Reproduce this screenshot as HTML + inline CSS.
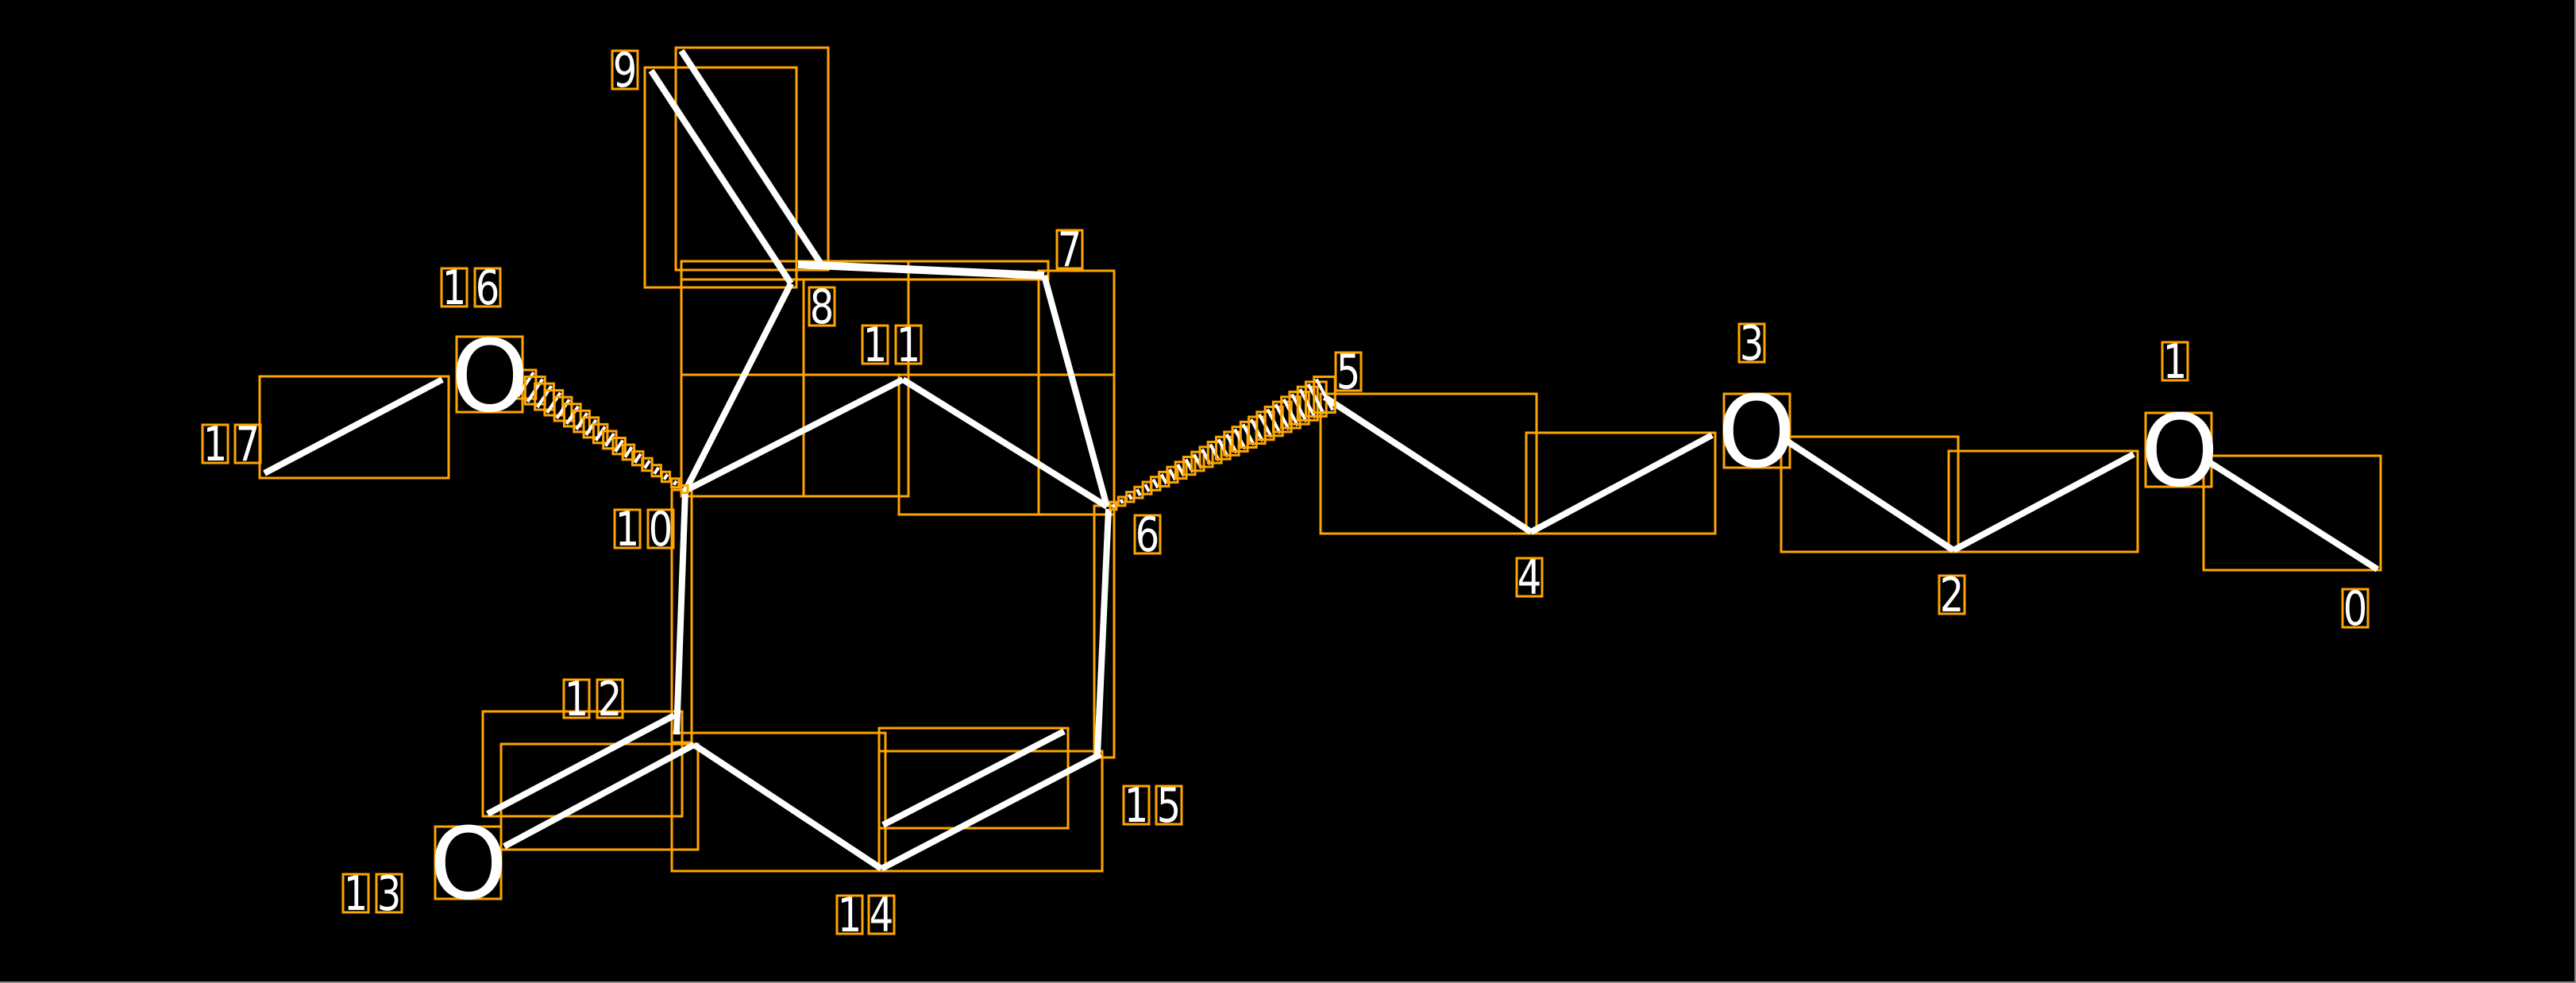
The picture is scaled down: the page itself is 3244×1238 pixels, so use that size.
<!DOCTYPE html>
<html><head><meta charset="utf-8"><style>
html,body{margin:0;padding:0;background:#000;}
svg{display:block;}
text{font-family:"DejaVu Sans","Liberation Sans",sans-serif;fill:#fff;}
</style></head><body>
<svg id="s" width="3244" height="1238" viewBox="0 0 3244 1238" xmlns="http://www.w3.org/2000/svg">
<rect x="0" y="0" width="3244" height="1238" fill="#000"/>
<line x1="0" y1="1237" x2="3244" y2="1237" stroke="#888" stroke-width="2"/>
<line x1="3243" y1="0" x2="3243" y2="1238" stroke="#888" stroke-width="2"/>

<g fill="none" stroke="#FFA500" stroke-width="3">
<rect x="327" y="474" width="238" height="128"/>
<rect x="575" y="424" width="83" height="95"/>
<rect x="812" y="85" width="191" height="277"/>
<rect x="851" y="60" width="192" height="280"/>
<rect x="858" y="329" width="462" height="23"/>
<rect x="858" y="329" width="286" height="296"/>
<line x1="1012" y1="352" x2="1012" y2="625"/>
<line x1="858" y1="472" x2="1403" y2="472"/>
<rect x="1000" y="352" width="1" height="0"/>
<rect x="1308" y="341" width="95" height="307"/>
<rect x="1132" y="472" width="271" height="176"/>
<rect x="846" y="617" width="25" height="318"/>
<rect x="1378" y="637" width="25" height="317"/>
<rect x="608" y="896" width="251" height="132"/>
<rect x="631" y="937" width="248" height="133"/>
<rect x="846" y="923" width="269" height="174"/>
<rect x="1107" y="917" width="238" height="126"/>
<rect x="1107" y="946" width="281" height="151"/>
<rect x="548" y="1041" width="83" height="91"/>
<rect x="1663" y="496" width="272" height="176"/>
<rect x="1922" y="545" width="238" height="127"/>
<rect x="2171" y="496" width="83" height="93"/>
<rect x="2243" y="550" width="223" height="145"/>
<rect x="2454" y="568" width="238" height="127"/>
<rect x="2702" y="520" width="83" height="93"/>
<rect x="2775" y="574" width="223" height="144"/>
</g>

<g stroke="#fff" stroke-width="8" stroke-linecap="butt" fill="none">
<line x1="333" y1="596" x2="557" y2="478"/>
<line x1="820" y1="89" x2="996" y2="357"/>
<line x1="858" y1="64" x2="1033" y2="331"/>
<line x1="1005" y1="333" x2="1315" y2="347" stroke-width="10"/>
<line x1="996" y1="357" x2="863" y2="618"/>
<line x1="863" y1="618" x2="1137" y2="478"/>
<line x1="1137" y1="478" x2="1394" y2="638"/>
<line x1="1315" y1="347" x2="1394" y2="638"/>
<line x1="863" y1="618" x2="852" y2="925"/>
<line x1="614" y1="1025" x2="849" y2="901"/>
<line x1="635" y1="1066" x2="874" y2="938"/>
<line x1="874" y1="938" x2="1110" y2="1094"/>
<line x1="1110" y1="1094" x2="1386" y2="950"/>
<line x1="1112" y1="1039" x2="1340" y2="921"/>
<line x1="1396" y1="641" x2="1382" y2="950"/>
<line x1="1668" y1="500" x2="1928" y2="670"/>
<line x1="1928" y1="670" x2="2156" y2="548"/>
<line x1="2245" y1="552" x2="2460" y2="693"/>
<line x1="2460" y1="693" x2="2687" y2="572"/>
<line x1="2779" y1="580" x2="2994" y2="717"/>
</g>

<g id="hash"></g>

<g font-size="125">
<text x="617" y="517" text-anchor="middle">O</text>
<text x="590" y="1131" text-anchor="middle">O</text>
<text x="2212" y="587" text-anchor="middle">O</text>
<text x="2745" y="611" text-anchor="middle">O</text>
</g>

<g id="labels" font-size="60"></g>
</svg>
<script>
var NS="http://www.w3.org/2000/svg";
function el(p,n,a){var e=document.createElementNS(NS,n);for(var k in a)e.setAttribute(k,a[k]);p.appendChild(e);return e;}
var H=document.getElementById('hash');
function wedge(ax,ay,bx,by,ha,hb,n){
  var dx=bx-ax,dy=by-ay,L=Math.hypot(dx,dy),px=-dy/L,py=dx/L;
  for(var i=0;i<n;i++){var t=i/(n-1);var x=ax+dx*t,y=ay+dy*t,h=ha+(hb-ha)*t;
    var x1=x-px*h,y1=y-py*h,x2=x+px*h,y2=y+py*h;
    el(H,'line',{x1:x1,y1:y1,x2:x2,y2:y2,stroke:'#fff','stroke-width':4});
    var mx=Math.min(x1,x2)-3,my=Math.min(y1,y2)-3;
    el(H,'rect',{x:mx,y:my,width:Math.abs(x2-x1)+6,height:Math.abs(y2-y1)+6,fill:'none',stroke:'#FFA500','stroke-width':3});
  }
}
wedge(662,484,862,616,18,2,18);
wedge(1402,637,1668,497,2,22,26);
var G=document.getElementById('labels');
var L=[[2966,789,'0'],[2739,478,'1'],[2458,772,'2'],[2206,455,'3'],[1926,750,'4'],[1698,491,'5'],[1445,696,'6'],[1347,337,'7'],[1035,409,'8'],[787,111,'9'],
[790,689,'1'],[832,689,'0'],[1102,457,'1'],[1144,457,'1'],[726,903,'1'],[768,903,'2'],[448,1148,'1'],[490,1148,'3'],[1070,1175,'1'],[1110,1175,'4'],
[1431,1037,'1'],[1472,1037,'5'],[572,385,'1'],[614,385,'6'],[271,582,'1'],[312,582,'7']];
L.forEach(function(l){
  el(G,'rect',{x:l[0]-16,y:l[1]-47,width:32,height:48,fill:'none',stroke:'#FFA500','stroke-width':3});
  var t=el(G,'text',{x:l[0],y:l[1]-2,'text-anchor':'middle',transform:'translate('+l[0]+' 0) scale(0.8 1) translate('+(-l[0])+' 0)'});
  t.textContent=l[2];
});
</script>
</body></html>
